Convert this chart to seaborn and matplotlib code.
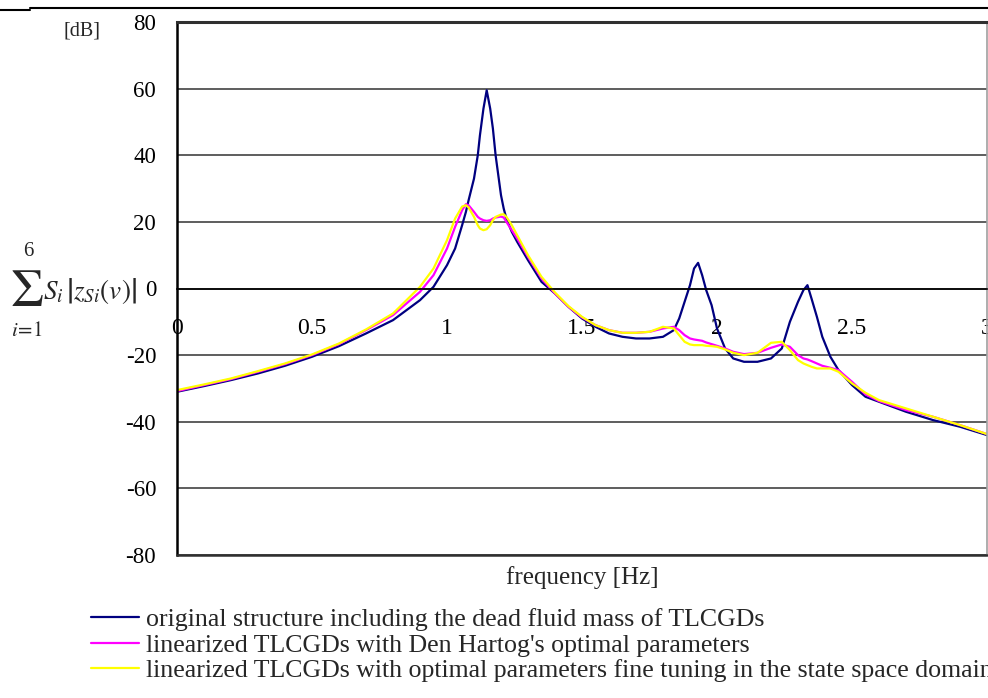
import numpy as np
import pandas as pd
import matplotlib
matplotlib.use("Agg")
import matplotlib.pyplot as plt
from matplotlib.lines import Line2D
import seaborn as sns

# ---------------- data ----------------
freq = [0, 0.1, 0.2, 0.3, 0.4, 0.5, 0.6, 0.7, 0.8, 0.9, 0.95, 1.0, 1.03, 1.056,
        1.07, 1.08, 1.1, 1.114, 1.122, 1.135, 1.147, 1.16, 1.17, 1.18, 1.2, 1.21,
        1.22, 1.24, 1.26, 1.3, 1.35, 1.4, 1.45, 1.5, 1.55, 1.6, 1.65, 1.7, 1.75,
        1.8, 1.84, 1.86, 1.88, 1.9, 1.915, 1.93, 1.945, 1.96, 1.98, 2.0, 2.03,
        2.06, 2.1, 2.15, 2.2, 2.24, 2.27, 2.3, 2.32, 2.335, 2.35, 2.37, 2.39,
        2.42, 2.45, 2.5, 2.55, 2.6, 2.7, 2.8, 2.9, 3.0]

original = [-31, -29.3, -27.5, -25.5, -23.2, -20.5, -17.3, -13.5, -9.5, -3.5, 0.5, 7, 12, 19,
            23, 26.5, 33, 40, 46, 54, 59.5, 54, 48, 40, 28, 24,
            21, 17, 14, 8.5, 2, -1.5, -5.5, -9, -11.5, -13.5, -14.5, -15, -15,
            -14.5, -12.5, -9, -4, 1, 6, 7.7, 4, -0.5, -5, -12, -18,
            -21, -22, -22, -21, -18, -10, -4, -0.5, 1, -3, -8.5, -14.5,
            -20.5, -24.5, -29, -32.5, -34, -37, -39.5, -41.5, -44]

den_hartog = [-30.8, -29, -27.2, -25, -22.7, -20, -16.7, -12.5, -8, -1, 4, 12, 18.5, 23.5,
              25.3, 25, 23, 21.5, 21, 20.5, 20.3, 20.5, 21, 21.3, 21.6, 21.3,
              20, 17.5, 15, 9.5, 3, -1.5, -5.5, -8.7, -11, -12.5, -13.3, -13.3, -13,
              -12, -11.5, -12.5, -14, -15, -15.3, -15.5, -15.7, -16.2, -16.7, -17.2, -18,
              -19, -19.7, -19.3, -17.8, -16.8, -17.5, -20, -21, -21.3, -21.8, -22.5, -23.2,
              -23.8, -24.5, -28, -31.8, -33.8, -36.5, -38.5, -41, -43.7]

fine_tuned = [-30.5, -28.8, -27, -24.8, -22.5, -19.8, -16.5, -12.3, -7.5, 0.5, 6, 14.5, 21, 24.6,
              25, 24.3, 21.5, 19, 18, 17.5, 17.8, 19, 20.5, 21.5, 22.2, 22.3,
              21.5, 19, 16, 10, 3.5, -1.2, -5.3, -8.5, -11, -12.5, -13.3, -13.3, -13,
              -11.5, -12, -14, -16, -16.8, -17, -17, -17, -17.2, -17.3, -17.5, -18.3,
              -19.3, -20, -19.3, -16.3, -16, -18.5, -21.5, -22.5, -23, -23.5, -24, -24,
              -24, -25, -28.5, -31.3, -33.5, -36, -38.5, -41, -43.7]

series_names = ["original structure including the dead fluid mass of TLCGDs",
                "linearized TLCGDs with Den Hartog's optimal parameters",
                "linearized TLCGDs with optimal parameters fine tuning in the state space domain"]
series_colors = ["#000080", "#FF00FF", "#FFFF00"]

x_ticks = [0, 0.5, 1, 1.5, 2, 2.5, 3]
x_tick_labels = ["0", "0.5", "1", "1.5", "2", "2.5", "3"]
y_ticks = [-80, -60, -40, -20, 0, 20, 40, 60, 80]
y_tick_labels = ["-80", "-60", "-40", "-20", "0", "20", "40", "60", "80"]

# ---------------- build long table ----------------
df = pd.DataFrame({
    "freq": freq * 3,
    "value": original + den_hartog + fine_tuned,
    "series": [series_names[0]] * len(freq) + [series_names[1]] * len(freq) + [series_names[2]] * len(freq),
})

sns.set_style("white")
plt.rcParams["font.family"] = ["Liberation Serif", "DejaVu Serif"]
plt.rcParams["mathtext.fontset"] = "stix"

W, H = 988, 698
fig = plt.figure(figsize=(W / 100, H / 100), dpi=100)
ax = fig.add_axes([177 / W, 1 - 555 / H, (987 - 177) / W, (555 - 22) / H])

sns.lineplot(data=df, x="freq", y="value", hue="series", hue_order=series_names,
             palette=dict(zip(series_names, series_colors)), sort=False,
             linewidth=1.6, ax=ax, legend=False)

ax.set_xlim(0, 3)
ax.set_ylim(-80, 80)
ax.set_xticks(x_ticks)
ax.set_xticklabels(x_tick_labels)
ax.set_yticks(y_ticks)
ax.set_yticklabels(y_tick_labels)
ax.set_xlabel("")
ax.set_ylabel("")

ax.yaxis.grid(True, color="#505050", linewidth=1.3)
ax.xaxis.grid(False)
ax.set_axisbelow(True)

ax.tick_params(axis="y", length=0, pad=15, labelsize=16.5, colors="black")
ax.tick_params(axis="x", direction="in", length=6, width=1, pad=21, labelsize=17, colors="black")

ax.spines["bottom"].set_position(("data", 0))
ax.spines["bottom"].set_color("black")
ax.spines["bottom"].set_linewidth(1.2)
ax.spines["left"].set_color("black")
ax.spines["left"].set_linewidth(1.8)
ax.spines["top"].set_color("#303030")
ax.spines["top"].set_linewidth(2.2)
ax.spines["right"].set_color("#A0A0A0")
ax.spines["right"].set_linewidth(1.2)
for sp in ax.spines.values():
    sp.set_visible(True)

handles = list(ax.lines[:3])
ax.axhline(-80, color="#303030", linewidth=1.8, clip_on=False, zorder=5)

# text labels
fig.text(63 / W, 1 - 31 / H, "[dB]", fontsize=14.5, va="center", ha="left")
# y-axis quantity: sum_{i=1}^{6} S_i |z_Si(v)|
fig.text(27 / W, 1 - 293 / H, r"$\mathrm{\Sigma}$", fontsize=38, va="center", ha="center")
fig.text(28 / W, 1 - 252 / H, "6", fontsize=15, va="center", ha="center")
fig.text(27 / W, 1 - 331 / H, r"$i\!=\!1$", fontsize=15, va="center", ha="center")
fig.text(43 / W, 1 - 291 / H, r"$S_i\,\left|z_{Si}(v)\right|$",
         fontsize=19.5, va="center", ha="left")
fig.text(582 / W, 1 - 578 / H, "frequency [Hz]", fontsize=18, va="center", ha="center")

# top border lines (table rule)
fig.add_artist(Line2D([30 / W, 1], [1 - 7.5 / H, 1 - 7.5 / H], color="black", linewidth=1.5))
fig.add_artist(Line2D([0, 30 / W], [1 - 9.5 / H, 1 - 9.5 / H], color="black", linewidth=1.5))

leg = fig.legend(handles, series_names, loc="upper left",
                 bbox_to_anchor=(91 / W, 1 - 608 / H), frameon=False,
                 fontsize=18.6, handlelength=1.85, handletextpad=0.28,
                 labelspacing=0.1, borderpad=0, borderaxespad=0)

fig.savefig("out.png", dpi=100)
